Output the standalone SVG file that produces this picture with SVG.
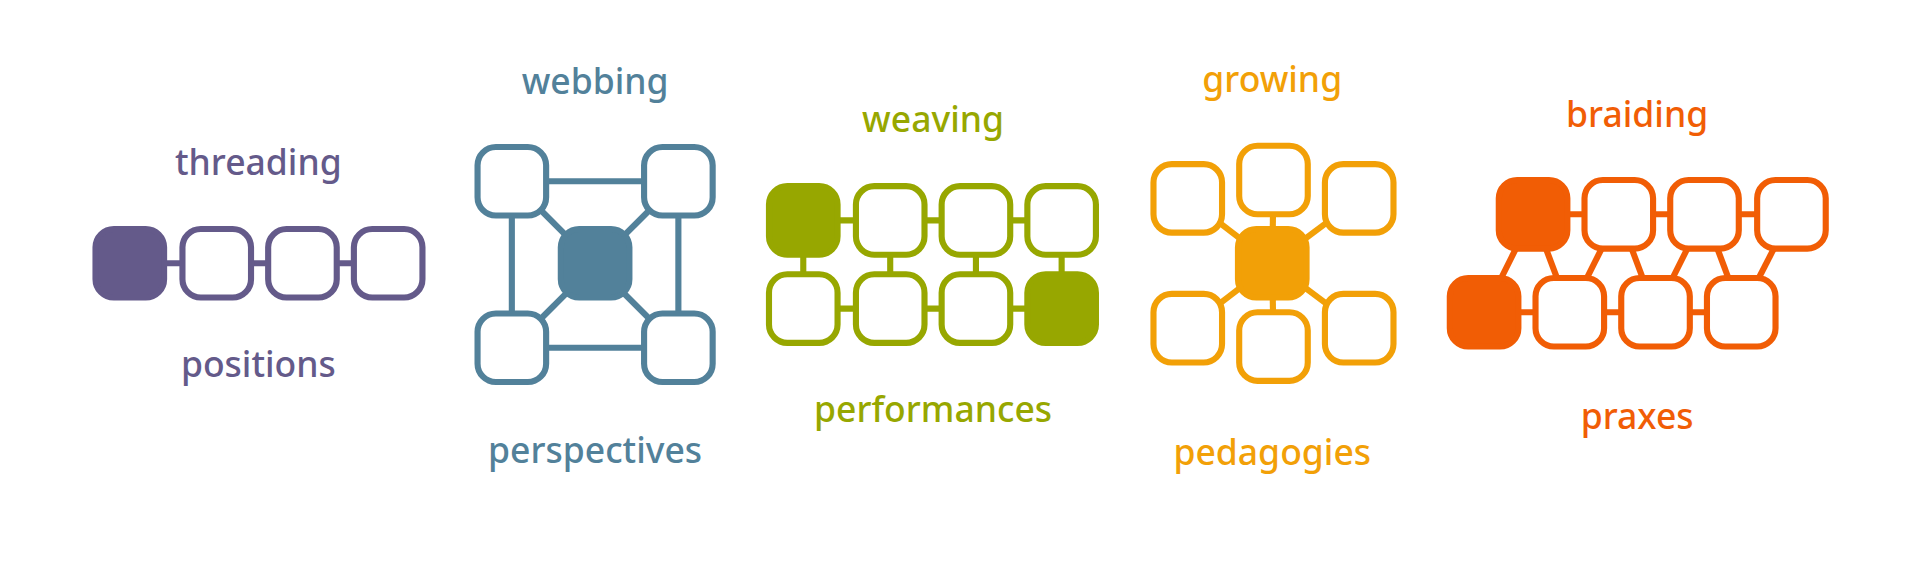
<svg xmlns="http://www.w3.org/2000/svg" width="1920" height="565" viewBox="0 0 1920 565">
<style>
.n{stroke-width:5;fill:#fff}
.f{stroke-width:5}
.c line{stroke-width:5}
text{font-family:"Noto Sans","Open Sans",sans-serif;font-size:29px;font-weight:500;text-anchor:middle}
</style>
<rect width="1920" height="565" fill="#fff"/>
<g transform="scale(1.2245)">
<g id="connectors" class="c">
<g stroke="#645a8a"><line x1="106" y1="215" x2="317" y2="215"/></g>
<g stroke="#52819a">
<line x1="418" y1="148" x2="554" y2="148"/><line x1="418" y1="284" x2="554" y2="284"/>
<line x1="418" y1="148" x2="418" y2="284"/><line x1="554" y1="148" x2="554" y2="284"/>
<line x1="418" y1="148" x2="554" y2="284"/><line x1="554" y1="148" x2="418" y2="284"/>
</g>
<g stroke="#97a700">
<line x1="656" y1="180" x2="867" y2="180"/><line x1="656" y1="252" x2="867" y2="252"/>
<line x1="656" y1="180" x2="656" y2="252"/><line x1="727" y1="180" x2="727" y2="252"/>
<line x1="797" y1="180" x2="797" y2="252"/><line x1="867" y1="180" x2="867" y2="252"/>
</g>
<g stroke="#f2a007">
<line x1="1039" y1="215" x2="1040" y2="147"/><line x1="1039" y1="215" x2="1040" y2="283"/>
<line x1="1039" y1="215" x2="970" y2="162"/><line x1="1039" y1="215" x2="1110" y2="162"/>
<line x1="1039" y1="215" x2="970" y2="268"/><line x1="1039" y1="215" x2="1110" y2="268"/>
</g>
<g stroke="#f15d05">
<line x1="1252" y1="175" x2="1463" y2="175"/><line x1="1212" y1="255" x2="1422" y2="255"/>
<line x1="1252" y1="175" x2="1212" y2="255"/><line x1="1252" y1="175" x2="1282" y2="255"/>
<line x1="1322" y1="175" x2="1282" y2="255"/><line x1="1322" y1="175" x2="1352" y2="255"/>
<line x1="1392" y1="175" x2="1352" y2="255"/><line x1="1392" y1="175" x2="1422" y2="255"/>
<line x1="1463" y1="175" x2="1422" y2="255"/>
</g>
</g>
<g id="threading" stroke="#645a8a" fill="#645a8a">
<rect class="f" x="78" y="187" width="56" height="56" rx="15"/>
<rect class="n" x="149" y="187" width="56" height="56" rx="15"/>
<rect class="n" x="219" y="187" width="56" height="56" rx="15"/>
<rect class="n" x="289" y="187" width="56" height="56" rx="15"/>
<text x="211" y="143" stroke="none">threading</text>
<text x="211" y="308" stroke="none">positions</text>
</g>
<g id="webbing" stroke="#52819a" fill="#52819a">
<rect class="n" x="390" y="120" width="56" height="56" rx="15"/>
<rect class="n" x="526" y="120" width="56" height="56" rx="15"/>
<rect class="n" x="390" y="256" width="56" height="56" rx="15"/>
<rect class="n" x="526" y="256" width="56" height="56" rx="15"/>
<rect class="f" x="458" y="187" width="56" height="56" rx="15"/>
<text x="486" y="77" stroke="none">webbing</text>
<text x="486" y="378" stroke="none">perspectives</text>
</g>
<g id="weaving" stroke="#97a700" fill="#97a700">
<rect class="f" x="628" y="152" width="56" height="56" rx="15"/>
<rect class="n" x="699" y="152" width="56" height="56" rx="15"/>
<rect class="n" x="769" y="152" width="56" height="56" rx="15"/>
<rect class="n" x="839" y="152" width="56" height="56" rx="15"/>
<rect class="n" x="628" y="224" width="56" height="56" rx="15"/>
<rect class="n" x="699" y="224" width="56" height="56" rx="15"/>
<rect class="n" x="769" y="224" width="56" height="56" rx="15"/>
<rect class="f" x="839" y="224" width="56" height="56" rx="15"/>
<text x="762" y="108" stroke="none">weaving</text>
<text x="762" y="345" stroke="none">performances</text>
</g>
<g id="growing" stroke="#f2a007" fill="#f2a007">
<rect class="n" x="1012" y="119" width="56" height="56" rx="15"/>
<rect class="n" x="942" y="134" width="56" height="56" rx="15"/>
<rect class="n" x="1082" y="134" width="56" height="56" rx="15"/>
<rect class="n" x="942" y="240" width="56" height="56" rx="15"/>
<rect class="n" x="1012" y="255" width="56" height="56" rx="15"/>
<rect class="n" x="1082" y="240" width="56" height="56" rx="15"/>
<rect class="f" x="1011" y="187" width="56" height="56" rx="15"/>
<text x="1039" y="75" stroke="none">growing</text>
<text x="1039" y="380" stroke="none">pedagogies</text>
</g>
<g id="braiding" stroke="#f15d05" fill="#f15d05">
<rect class="f" x="1224" y="147" width="56" height="56" rx="15"/>
<rect class="n" x="1294" y="147" width="56" height="56" rx="15"/>
<rect class="n" x="1364" y="147" width="56" height="56" rx="15"/>
<rect class="n" x="1435" y="147" width="56" height="56" rx="15"/>
<rect class="f" x="1184" y="227" width="56" height="56" rx="15"/>
<rect class="n" x="1254" y="227" width="56" height="56" rx="15"/>
<rect class="n" x="1324" y="227" width="56" height="56" rx="15"/>
<rect class="n" x="1394" y="227" width="56" height="56" rx="15"/>
<text x="1337" y="104" stroke="none">braiding</text>
<text x="1337" y="350" stroke="none">praxes</text>
</g>
</g>
</svg>
